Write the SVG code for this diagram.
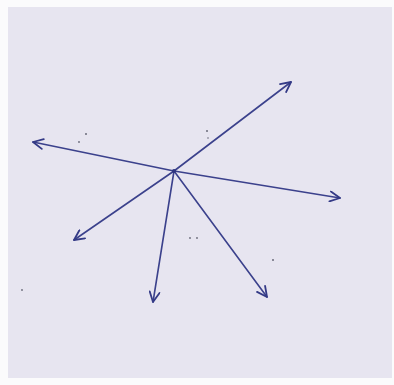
<svg xmlns="http://www.w3.org/2000/svg" width="394" height="385" viewBox="0 0 394 385">
<defs>
<marker id="ah" viewBox="0 0 12 12" refX="11" refY="6" markerWidth="12" markerHeight="12" markerUnits="userSpaceOnUse" orient="auto">
<path d="M1 1 L11 6 L1 11" fill="none" stroke="#343a86" stroke-width="1.8" stroke-linecap="round" stroke-linejoin="round"/>
</marker>
<style>
.c{stroke:#3b418c;stroke-width:1.6;fill:none;stroke-linecap:round;marker-end:url(#ah)}
.d{fill:#6a6a7a}
</style>
</defs>
<rect width="394" height="385" fill="#fbfbfc"/>
<rect x="8" y="7" width="384" height="371" fill="#e7e5f0"/>
<g id="dots">
<circle class="d" cx="86" cy="134" r="1"/>
<circle class="d" cx="79" cy="142" r="0.9"/>
<circle class="d" cx="207" cy="131" r="1"/>
<circle class="d" cx="208" cy="138" r="0.8"/>
<circle class="d" cx="190" cy="238" r="0.9"/>
<circle class="d" cx="197" cy="238" r="0.9"/>
<circle class="d" cx="273" cy="260" r="1"/>
<circle class="d" cx="22" cy="290" r="0.9"/>
</g>
<g id="connectors">
<line class="c" x1="174" y1="171" x2="291" y2="82"/>
<line class="c" x1="174" y1="171" x2="33" y2="142"/>
<line class="c" x1="174" y1="171" x2="340" y2="198"/>
<line class="c" x1="174" y1="171" x2="74" y2="240"/>
<line class="c" x1="174" y1="171" x2="153" y2="302"/>
<line class="c" x1="174" y1="171" x2="267" y2="297"/>
</g>
<g id="center">
<circle cx="174" cy="171" r="2" fill="#2f3580"/>
</g>
</svg>
